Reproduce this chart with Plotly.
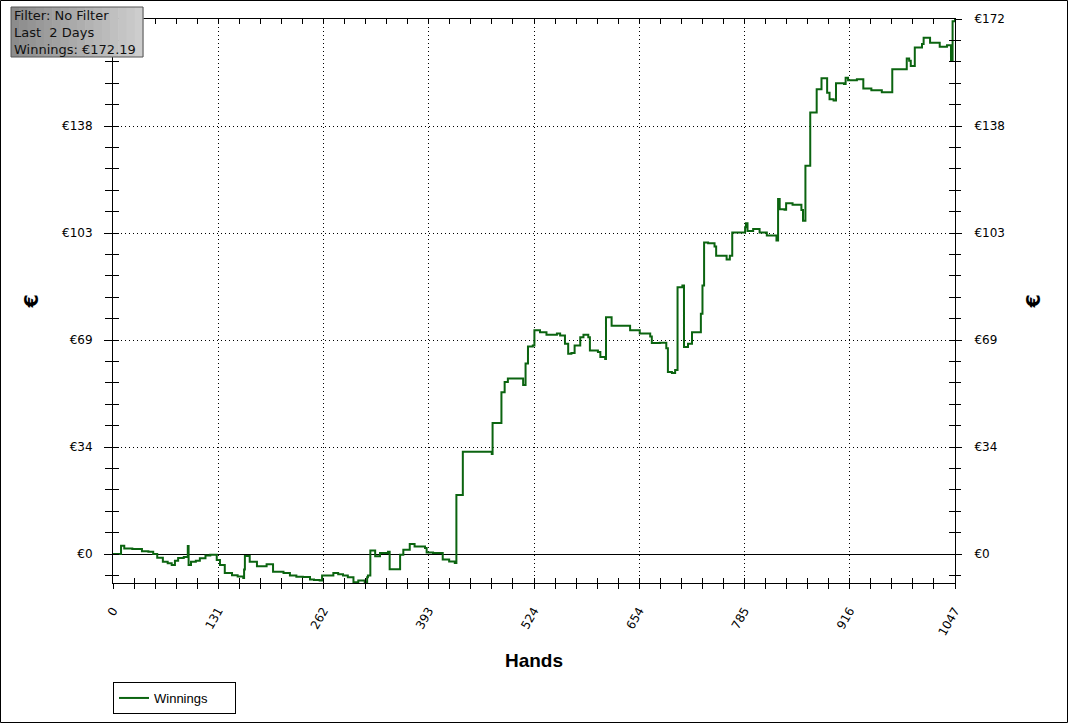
import plotly.graph_objects as go

# ---- data ----
hands = [0, 10, 14, 24, 36, 44, 50, 55, 62, 68, 73, 77, 81, 88, 93, 94, 97, 103, 108, 115,
         121, 129, 133, 139, 148, 155, 162, 163, 164, 170, 179, 191, 199, 212, 220, 228, 236,
         245, 250, 257, 260, 274, 280, 286, 292, 299, 305, 313, 316, 317, 320, 326, 332, 342,
         344, 354, 357, 361, 369, 375, 388, 390, 398, 410, 418, 425, 427, 435, 471, 472, 483,
         487, 491, 506, 510, 513, 516, 522, 524, 531, 539, 552, 556, 562, 566, 570, 574, 581,
         585, 591, 593, 603, 606, 612, 613, 620, 635, 643, 655, 668, 670, 680, 688, 690, 695,
         699, 702, 708, 710, 715, 720, 731, 733, 735, 740, 748, 750, 763, 767, 770, 780, 786,
         787, 789, 792, 796, 804, 813, 825, 827, 829, 835, 837, 845, 856, 858, 861, 867, 875,
         881, 888, 891, 896, 899, 909, 911, 914, 925, 933, 943, 956, 969, 987, 990, 992, 997,
         1006, 1008, 1016, 1028, 1037, 1042, 1044, 1047]
winnings = [0, 2.7, 1.8, 1.6, 0.9, 0.7, 0, -1.2, -2.5, -3.0, -3.5, -2.2, -1.3, -1.0, 2.6, -3.5,
            -2.5, -2.2, -1.4, -0.5, -0.2, -1.9, -3.5, -6.1, -6.8, -7.2, -7.7, -5.0, -0.6, -2.5,
            -3.9, -3.3, -5.7, -6.1, -6.9, -7.3, -7.4, -8.2, -8.4, -8.5, -6.9, -6.1, -6.5, -6.9,
            -7.5, -9.1, -8.5, -9.1, -7.5, -6.9, 1.1, -0.75, 0.3, 0.7, -4.9, -4.9, -0.2, 1.4, 3.2,
            2.4, 1.9, 0.5, 0.3, -1.8, -2.4, -2.9, 19.0, 32.9, 32.2, 42.2, 52.1, 55.4, 56.5, 56.5,
            54.4, 61.3, 66.8, 67.1, 72.0, 71.4, 70.6, 71.0, 70.3, 67.7, 64.5, 64.7, 67.1, 69.8,
            70.6, 69.8, 65.5, 65.0, 63.4, 62.8, 76.2, 73.5, 73.5, 72.0, 71.0, 70.0, 67.9, 68.0,
            66.2, 58.6, 58.3, 59.2, 85.9, 86.4, 66.6, 67.7, 71.4, 77.3, 86.4, 100.3, 100.0, 99.0,
            96.0, 94.8, 96.0, 103.5, 103.5, 105.2, 106.5, 104.0, 104.0, 104.6, 103.5, 102.5,
            100.9, 114.3, 111.0, 110.8, 112.9, 112.4, 110.7, 107.3, 125.0, 142.1, 149.6, 153.1,
            148.5, 146.4, 146.0, 151.5, 151.3, 153.3, 152.5, 152.8, 149.8, 149.3, 148.6, 156.0,
            159.5, 158.8, 157.1, 163.0, 164.2, 166.2, 164.6, 163.3, 163.8, 158.7, 171.5, 172.19]

total_hands = 1047
total_winnings = 172.19
y_min = -9.33
x_tick_labels = ["0", "131", "262", "393", "524", "654", "785", "916", "1047"]
y_tick_labels = ["€0", "€34", "€69", "€103", "€138", "€172"]
info_lines = ["Filter: No Filter", "Last  2 Days", "Winnings: €172.19"]

x_tickvals = [total_hands * i / 8 for i in range(9)]
y_tickvals = [total_winnings * i / 5 for i in range(6)]
# the top-left label is hidden behind the info box in the reference
y_tick_labels_left = y_tick_labels[:-1] + [""]

# ---- layout geometry (pixels) ----
W, H = 1068, 723
L, R, T, B = 113, 113, 19, 140
PW, PH = W - L - R, H - T - B


def px(x):
    return (x - L) / PW


def py(y):
    return (H - B - y) / PH


FONT = "DejaVu Sans"
GREEN = "#0b6410"
DOT = "1px,3px"

fig = go.Figure()
fig.add_trace(go.Scatter(
    x=hands, y=winnings, mode="lines", name="Winnings",
    line=dict(color=GREEN, width=2, shape="hv"), hoverinfo="skip",
))

xr = [0, total_hands]
yr = [y_min, total_winnings + 0.02]
minor_x = dict(ticks="outside", ticklen=5, tickcolor="black", dtick=total_hands / 40, tick0=0, showgrid=False)
minor_x_in = dict(ticks="inside", ticklen=5, tickcolor="black", dtick=total_hands / 40, tick0=0, showgrid=False)
minor_y = dict(ticks="outside", ticklen=7, tickcolor="black", dtick=total_winnings / 25, tick0=0, showgrid=False)
minor_y_in = dict(ticks="inside", ticklen=6, tickcolor="black", dtick=total_winnings / 25, tick0=0, showgrid=False)

fig.update_layout(
    width=W, height=H,
    margin=dict(l=L, r=R, t=T, b=B, autoexpand=False),
    paper_bgcolor="white", plot_bgcolor="white",
    font=dict(family=FONT, size=12, color="black"),
    showlegend=True,
    legend=dict(x=0, y=py(682), xanchor="left", yanchor="top", orientation="h",
                entrywidth=76, entrywidthmode="pixels",
                bordercolor="black", borderwidth=1, bgcolor="white",
                font=dict(family="Liberation Sans", size=13),
                itemwidth=30, tracegroupgap=0),
    xaxis=dict(range=xr, tickmode="array", tickvals=x_tickvals, ticktext=x_tick_labels,
               tickangle=-60, ticks="outside", ticklen=5, tickcolor="black",
               showline=True, linecolor="black", linewidth=1, zeroline=False,
               showgrid=True, gridcolor="black", griddash=DOT, gridwidth=1,
               minor=minor_x, ticklabelstandoff=10,
               title=dict(text="<b>Hands</b>", font=dict(family="Liberation Sans", size=19), standoff=16)),
    xaxis2=dict(range=xr, overlaying="x", side="bottom", tickmode="array", tickvals=x_tickvals,
                ticks="inside", ticklen=5, tickcolor="black", showticklabels=False,
                showline=False, showgrid=False, zeroline=False, minor=minor_x_in),
    xaxis3=dict(range=xr, overlaying="x", side="top", tickmode="array", tickvals=x_tickvals,
                ticks="inside", ticklen=5, tickcolor="black", showticklabels=False,
                showline=True, linecolor="black", showgrid=False, zeroline=False, minor=minor_x_in),
    yaxis=dict(range=yr, tickmode="array", tickvals=y_tickvals, ticktext=y_tick_labels_left,
               ticks="outside", ticklen=8, tickcolor="black",
               showline=True, linecolor="black", linewidth=1,
               zeroline=True, zerolinecolor="black", zerolinewidth=1,
               showgrid=True, gridcolor="black", griddash=DOT, gridwidth=1,
               minor=minor_y, ticklabelstandoff=9,
               title=dict(text="<b>€</b>", font=dict(family="DejaVu Sans", size=19), standoff=18)),
    yaxis2=dict(range=yr, overlaying="y", side="left", tickmode="array", tickvals=y_tickvals,
                ticks="inside", ticklen=6, tickcolor="black", showticklabels=False,
                showline=False, showgrid=False, zeroline=False, minor=minor_y_in),
    yaxis3=dict(range=yr, overlaying="y", side="right", tickmode="array", tickvals=y_tickvals,
                ticktext=y_tick_labels, ticks="outside", ticklen=6, tickcolor="black",
                showline=True, linecolor="black", showgrid=False, zeroline=False,
                minor=dict(ticks="outside", ticklen=5, tickcolor="black", dtick=total_winnings / 25, tick0=0),
                ticklabelstandoff=10,
                title=dict(text="<b>€</b>", font=dict(family="DejaVu Sans", size=19), standoff=22)),
    yaxis4=dict(range=yr, overlaying="y", side="right", tickmode="array", tickvals=y_tickvals,
                ticks="inside", ticklen=5, tickcolor="black", showticklabels=False,
                showline=False, showgrid=False, zeroline=False, minor=minor_y_in),
)

# invisible helper traces so the overlay axes are drawn
for xa, ya in [("x2", "y2"), ("x3", "y3"), ("x2", "y4")]:
    fig.add_trace(go.Scatter(x=[None], y=[None], xaxis=xa, yaxis=ya, showlegend=False,
                             hoverinfo="skip", mode="lines"))

shapes = []
# outer frame around the whole picture
shapes.append(dict(type="rect", xref="paper", yref="paper",
                   x0=px(0.5), x1=px(W - 0.5), y0=py(H - 0.5), y1=py(0.5),
                   line=dict(color="black", width=1), fillcolor="rgba(0,0,0,0)", layer="above"))
# info box with a gray gradient
bx0, bx1, by0, by1 = 11, 143, 7, 57
n = 16
for i in range(n):
    t = i / (n - 1)
    g = int(140 + (205 - 140) * t)
    shapes.append(dict(type="rect", xref="paper", yref="paper",
                       x0=px(bx0 + (bx1 - bx0) * i / n), x1=px(bx0 + (bx1 - bx0) * (i + 1) / n + 0.6),
                       y0=py(by1), y1=py(by0), line=dict(width=0),
                       fillcolor=f"rgb({g},{g},{g})", layer="above"))
shapes.append(dict(type="rect", xref="paper", yref="paper",
                   x0=px(bx0), x1=px(bx1), y0=py(by1), y1=py(by0),
                   line=dict(color="#555555", width=1), fillcolor="rgba(0,0,0,0)", layer="above"))
fig.update_layout(shapes=shapes)

fig.add_annotation(xref="paper", yref="paper", x=px(bx0 + 1), y=py(by0 - 1),
                   xanchor="left", yanchor="top", align="left", showarrow=False,
                   text="<br>".join(info_lines),
                   font=dict(family=FONT, size=13, color="#111111"))

fig.write_html("out.html", config={"displayModeBar": False},
               post_script="document.body.style.margin='0';document.body.style.padding='0';")
